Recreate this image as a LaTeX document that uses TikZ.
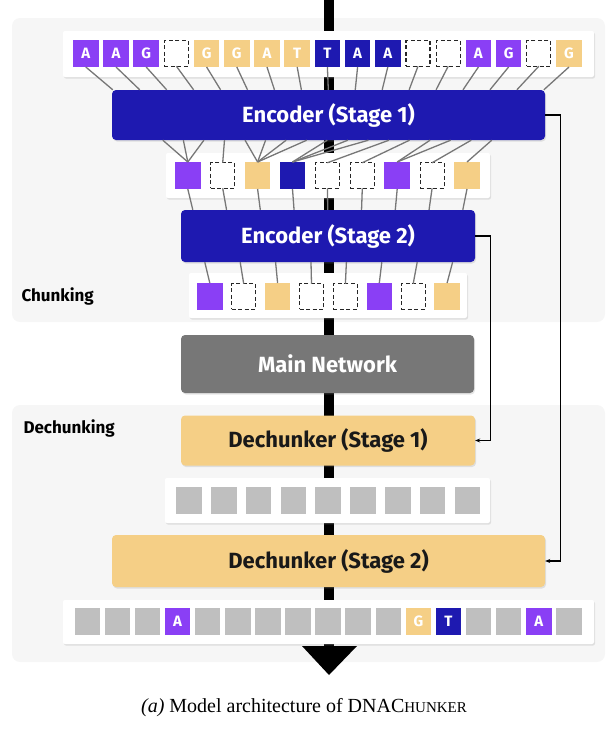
\documentclass[tikz,border=0pt]{standalone}
\usepackage{fontspec}
\setmainfont{Liberation Serif}
\newfontfamily\labfont{Fira Sans}
\usetikzlibrary{arrows.meta,shadows}
\definecolor{dpurple}{HTML}{8A3FF5}
\definecolor{dyellow}{HTML}{F5CF86}
\definecolor{dblue}{HTML}{1E19B0}
\definecolor{dgray}{HTML}{BFBFBF}
\definecolor{mgray}{HTML}{777777}
\definecolor{panel}{HTML}{F6F6F6}

\begin{document}
\begin{tikzpicture}[x=1pt,y=-1pt,
    sq/.style  = {rectangle, minimum width=25.5pt, minimum height=27pt,
                  inner sep=0pt, outer sep=0pt, text=white,
                  font=\labfont\fontsize{15}{15}\selectfont\bfseries},
    P/.style   = {sq, fill=dpurple},
    Y/.style   = {sq, fill=dyellow},
    B/.style   = {sq, fill=dblue},
    G/.style   = {sq, fill=dgray},
    N/.style   = {sq, fill=white, draw=black!85, line width=1.2pt,
                  dash pattern=on 4pt off 2.5pt, minimum width=24pt, minimum height=25.5pt},
    row/.style = {rectangle, fill=white, rounded corners=2pt,
                  drop shadow={opacity=0.2, shadow xshift=1pt, shadow yshift=-1.5pt}},
    blk/.style = {rectangle, rounded corners=4pt, inner sep=0pt,
                  font=\labfont\fontsize{22}{22}\selectfont\bfseries,
                  drop shadow={opacity=0.2, shadow xshift=1pt, shadow yshift=-1.5pt}},
    enc/.style = {blk, fill=dblue, text=white},
    dec/.style = {blk, fill=dyellow, text=black!90},
    link/.style= {draw=mgray, line width=1.3pt},
    back/.style= {draw=black, line width=1.1pt, -{Stealth[length=5pt,width=4pt]}},
    tag/.style = {font=\labfont\fontsize{17}{17}\selectfont\bfseries, anchor=west},
                        ]
\useasboundingbox (0,0) rectangle (615,729);
% panels
\fill[panel, rounded corners=8pt] (12,18) rectangle (605,322);
\fill[panel, rounded corners=8pt] (12,405) rectangle (605,662);
\node[tag] (chunk) at (18,296) {Chunking};
\node[tag] (dechunk) at (20,428) {Dechunking};
% main spine
\coordinate (in) at (329,0);
\coordinate (out) at (329,646);
\draw[line width=10pt] (in) -- (out);
\fill (302,646) -- (357,646) -- (329,675) -- cycle;
% rows of tokens
\node[row, minimum width=531pt, minimum height=46pt] (r1) at (328.5,54) {};
\foreach \c/\l [count=\i] in {P/A,P/A,P/G,N/{},Y/G,Y/G,Y/A,Y/T,B/T,B/A,B/A,N/{},N/{},P/A,P/G,N/{},Y/G}
    \node[\c] (t\i) at ({85.8+(\i-1)*30.2},53.5) {\l};
\node[enc, minimum width=433pt, minimum height=50pt] (enc1) at (328.5,115) {Encoder (Stage 1)};
\foreach \i in {1,...,17}
    \draw[link] (t\i.south) -- ([xshift={1pt+(\i-1)*26.94pt}]enc1.north west);
\node[row, minimum width=324pt, minimum height=45pt] (r2) at (328,175.5) {};
\foreach \c [count=\i] in {P,N,Y,B,N,N,P,N,Y}
    \node[\c] (c\i) at ({187.8+(\i-1)*34.9},175.5) {};
\foreach \k [count=\i] in {1,1,1,2,3,3,3,3,4,4,4,5,6,7,7,8,9}
    \draw[link] ([xshift={51pt+(\i-1)*20.56pt}]enc1.south west) -- (c\k.north);
\node[enc, minimum width=294pt, minimum height=52pt] (enc2) at (328,236) {Encoder (Stage 2)};
\foreach \i in {1,...,9}
    \draw[link] (c\i.south) -- ([xshift={12pt+(\i-1)*33.75pt}]enc2.north west);
\node[row, minimum width=278pt, minimum height=45pt] (r3) at (328,295.5) {};
\foreach \c [count=\i] in {P,N,Y,N,N,P,N,Y}
    \node[\c] (d\i) at ({209.8+(\i-1)*33.9},296.5) {};
\foreach \i in {1,...,8}
    \draw[link] ([xshift={24pt+(\i-1)*35.4pt}]enc2.south west) -- (d\i.north);
% processing
\node[blk, fill=mgray, text=white, minimum width=293pt, minimum height=58pt] (main) at (327.5,364) {Main Network};
\node[dec, minimum width=294pt, minimum height=50pt] (dec1) at (328,440.5) {Dechunker (Stage 1)};
\node[row, minimum width=325pt, minimum height=45pt] (r4) at (327.5,500.5) {};
\foreach \i in {1,...,9}
    \node[G] (g\i) at ({189+(\i-1)*34.8},500.5) {};
\node[dec, minimum width=433pt, minimum height=52pt] (dec2) at (328.5,561) {Dechunker (Stage 2)};
\node[row, minimum width=531pt, minimum height=44pt] (r5) at (328.5,622) {};
\foreach \c/\l [count=\i] in {G/{},G/{},G/{},P/A,G/{},G/{},G/{},G/{},G/{},G/{},G/{},Y/G,B/T,G/{},G/{},P/A,G/{}}
    \node[\c] (o\i) at ({87.3+(\i-1)*30.1},621.5) {\l};
% skip connections
\draw[back] (enc1.east) -| ([xshift=15pt]dec2.east) -- (dec2.east);
\draw[back] (enc2.east) -| ([xshift=15pt]dec1.east) -- (dec1.east);
% caption
\node[font=\fontsize{20}{20}\selectfont] (cap) at (304,708)
    {\textit{(a)} Model architecture of DNAC{\fontsize{15}{15}\selectfont HUNKER}};
\end{tikzpicture}
\end{document}
